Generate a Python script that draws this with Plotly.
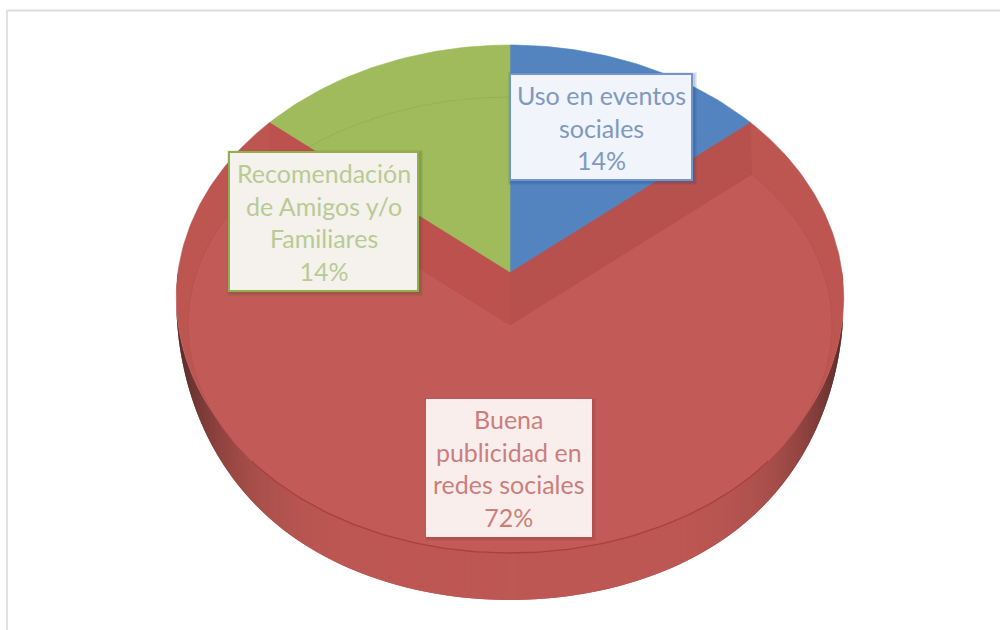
import math
import plotly.graph_objects as go

# Survey answers, clockwise from twelve o'clock
labels = ["Uso en eventos<br>sociales", "Buena<br>publicidad en<br>redes sociales", "Recomendación<br>de Amigos y/o<br>Familiares"]
values = [14, 72, 14]

BLUE, RED, GREEN = "#5384c0", "#bd5550", "#9fbb5c"
RED_FACE = "#c25b57"
FONT = "Lato"

# Tilted pie: a unit circle seen in perspective, then extruded downwards
CX, CY = 510.0, 272.0
SCALE_X, SCALE_Y, TILT = 332.0, 250.3, 0.1028
HALF_WIDTH = 334.0
DEPTH = 49.0
# Raised inner face of the pulled-out slice
FACE_CY, FACE_RX, FACE_RY = 325.0, 322.0, 228.0


def rim(deg):
    a = math.radians(deg)
    s, c = math.sin(a), math.cos(a)
    w = 1 + TILT * c
    return CX + SCALE_X * s / w, CY - SCALE_Y * c / w


def face_rim(deg):
    x, y = rim(deg)
    dx, dy = x - CX, y - CY
    t = 1 / math.hypot(dx / FACE_RX, dy / FACE_RY)
    return CX + t * dx, FACE_CY + t * dy


def edge_ratio(deg):
    return min(1.0, abs(rim(deg)[0] - CX) / HALF_WIDTH)


def wall_bottom(deg):
    # The side wall tapers away towards the left and right ends
    x, y = rim(deg)
    return x, y + DEPTH * math.sqrt(1 - edge_ratio(deg) ** 5.5)


def arc(fn, a, b, step=1.0):
    n = max(2, int(abs(b - a) / step))
    return [fn(a + (b - a) * i / n) for i in range(n + 1)]


def poly(points, color, line=0.6):
    xs = [p[0] for p in points] + [points[0][0]]
    ys = [p[1] for p in points] + [points[0][1]]
    return go.Scatter(x=xs, y=ys, mode="lines", fill="toself", fillcolor=color,
                      line=dict(color=color, width=line), hoverinfo="skip", showlegend=False)


def stroke(points, color, width):
    return go.Scatter(x=[p[0] for p in points], y=[p[1] for p in points], mode="lines",
                      line=dict(color=color, width=width), hoverinfo="skip", showlegend=False)


def side_shade(deg):
    # Darkens towards the left and right ends of the visible side wall
    k = edge_ratio(deg) ** 6
    return "rgb(%d,%d,%d)" % (190 - 105 * k, 88 - 46 * k, 84 - 44 * k)


total = sum(values)
blue_end = 360 * values[0] / total
red_end = blue_end + 360 * values[1] / total

fig = go.Figure()

# Side wall of the large slice, in overlapping strips so no seams show
for i in range(90, 270):
    strip = arc(rim, i, i + 2) + arc(wall_bottom, i + 2, i)
    fig.add_trace(poly(strip, side_shade(i + 1), line=0))

centre = (CX, CY)
inner = (CX, FACE_CY)

# Top of the large slice, then the blue and green slices behind it
fig.add_trace(poly([centre] + arc(rim, blue_end, red_end), RED))
fig.add_trace(poly([inner] + arc(face_rim, blue_end, red_end), RED_FACE))
fig.add_trace(poly([centre, rim(blue_end), face_rim(blue_end), inner], "#b7514e"))
fig.add_trace(poly([centre, rim(red_end), face_rim(red_end), inner], "#bd514d"))
fig.add_trace(poly([centre] + arc(rim, 0, blue_end), BLUE))
fig.add_trace(poly([centre] + arc(rim, red_end, 360), GREEN))

# Bevel edges of the top face
fig.add_trace(stroke(arc(face_rim, red_end, 360 + blue_end), "rgba(90,110,40,0.13)", 1))
fig.add_trace(stroke(arc(face_rim, blue_end, 125), "rgba(150,60,55,0.2)", 1))
fig.add_trace(stroke(arc(face_rim, 235, red_end), "rgba(150,60,55,0.2)", 1))
fig.add_trace(stroke(arc(face_rim, 125, 235), "#a8403d", 1.3))

# Slide frame and the data-label boxes
shapes = [
    dict(type="line", x0=7, x1=1000, y0=10.5, y1=10.5, line=dict(color="#dcdcdc", width=2)),
    dict(type="line", x0=7, x1=7, y0=10, y1=630, line=dict(color="#e2e2e2", width=2)),
]
boxes = [
    (510, 692, 74, 180, "#6f97cb", "rgb(241,244,250)", "#7d99c0", "rgba(40,70,120,0.10)"),
    (427, 591, 400, 536, "rgb(250,238,236)", "rgb(250,238,236)", "#cb7f7d", "rgba(110,40,40,0.06)"),
    (229, 418, 152, 291, "#93ad52", "rgb(245,242,238)", "#b8cb92", "rgba(70,90,30,0.10)"),
]
annotations = []
for (x0, x1, y0, y1, edge, bg, ink, shade), label, value in zip(boxes, labels, values):
    # Soft drop shadow built from stacked translucent rectangles
    for grow in (4, 3, 2):
        shapes.append(dict(type="rect", x0=x0 + 2 - grow, x1=x1 + 1 + grow, y0=y0 + 2 - grow,
                           y1=y1 + 1 + grow, fillcolor=shade, line=dict(width=0)))
    shapes.append(dict(type="rect", x0=x0, x1=x1, y0=y0, y1=y1, fillcolor=bg,
                       line=dict(color=edge, width=2)))
    annotations.append(dict(x=(x0 + x1) / 2, y=(y0 + y1) / 2, xref="x", yref="y",
                            text=f"{label}<br>{value}%", showarrow=False, align="center",
                            font=dict(family=FONT, size=25, color=ink)))

fig.update_layout(
    width=1000, height=630, margin=dict(l=0, r=0, t=0, b=0),
    paper_bgcolor="white", plot_bgcolor="white", showlegend=False,
    xaxis=dict(range=[0, 1000], visible=False, fixedrange=True),
    yaxis=dict(range=[630, 0], visible=False, fixedrange=True),
    shapes=shapes, annotations=annotations,
)
fig.write_html("out.html", config=dict(displayModeBar=False))
